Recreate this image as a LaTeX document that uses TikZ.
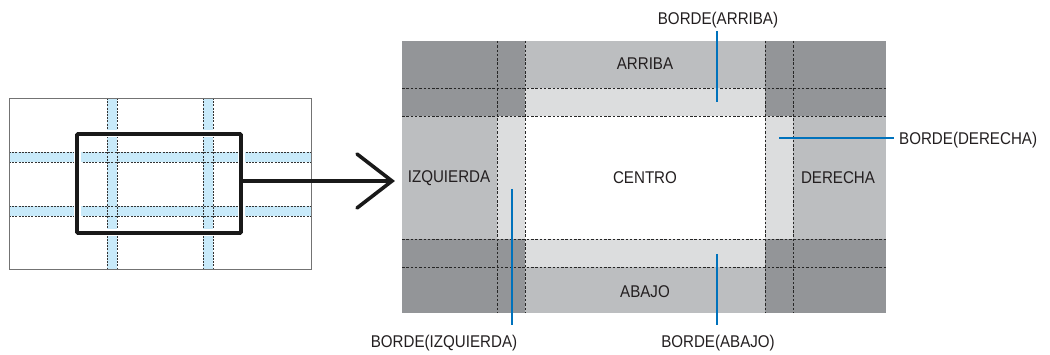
\documentclass[tikz,border=0pt]{standalone}
\usepackage{fontspec}
\setmainfont[FakeStretch=0.89]{Liberation Sans}
\begin{document}
\begin{tikzpicture}[x=1pt,y=-1pt,
  lbl/.style={font=\fontsize{17}{19}\selectfont, text=txtc, inner sep=0pt},
  leader/.style={draw=bluec, line width=2pt},
  gridline/.style={draw=black!85, line width=0.8pt, dash pattern=on 2.5pt off 1.8pt},
  bandline/.style={draw=black!80, line width=0.7pt, dash pattern=on 2pt off 1.2pt},
  band/.style={fill=bandc},
]
\definecolor{darkc}{HTML}{939598}
\definecolor{medc}{HTML}{BCBEC0}
\definecolor{lightc}{HTML}{DCDDDE}
\definecolor{bluec}{HTML}{0072BC}
\definecolor{bandc}{HTML}{C8EAFA}
\definecolor{txtc}{HTML}{231F20}
\useasboundingbox (0,0) rectangle (1050,355);

% ---------- left panel ----------
\fill[white] (9,98) rectangle (311,269);
\fill[band] (107,98) rectangle (117,269);
\fill[band] (203,98) rectangle (213,269);
\fill[band] (9,152) rectangle (311,162);
\fill[band] (9,206) rectangle (311,216);
\foreach \x in {107,117,203,213} \draw[bandline] (\x,98) -- (\x,269);
\foreach \y in {152,162,206,216} \draw[bandline] (9,\y) -- (311,\y);
\draw[draw=black!55, line width=0.8pt] (9,98) rectangle (311,269);
% selection frame
\draw[white, line width=7pt] (77,134) rectangle (241,233);
\draw[black!90, line width=3.6pt, rounded corners=1pt] (77,134) rectangle (241,233);

% arrow
\coordinate (frameE) at (241,181);
\coordinate (arrTip) at (392,181);
\coordinate (armA) at (357,154);
\coordinate (armB) at (357,208);
\draw[black!90, line width=3.6pt] (frameE) -- (arrTip);
\draw[black!90, line width=3.6pt, line cap=round, line join=miter] (armA) -- (arrTip) -- (armB);

% ---------- right panel ----------
\fill[darkc] (402,41) rectangle (525,116);
\fill[darkc] (765,41) rectangle (886,116);
\fill[darkc] (402,239) rectangle (525,313);
\fill[darkc] (765,239) rectangle (886,313);
\fill[medc] (525,41) rectangle (765,88);
\fill[medc] (525,267) rectangle (765,313);
\fill[medc] (402,116) rectangle (497,239);
\fill[medc] (793,116) rectangle (886,239);
\fill[lightc] (525,88) rectangle (765,116);
\fill[lightc] (525,239) rectangle (765,267);
\fill[lightc] (497,116) rectangle (525,239);
\fill[lightc] (765,116) rectangle (793,239);
\fill[white] (525,116) rectangle (765,239);
\foreach \y in {88,116,239,267} \draw[gridline] (402,\y) -- (886,\y);
\foreach \x in {497,525,765,793} \draw[gridline] (\x,41) -- (\x,313);

% region labels
\node[lbl] (arriba) at (645,64) {ARRIBA};
\node[lbl] (izq) at (449,178) {IZQUIERDA};
\node[lbl] (centro) at (645,178) {CENTRO};
\node[lbl] (der) at (838,178) {DERECHA};
\node[lbl] (abajo) at (645,292) {ABAJO};

% border labels
\node[lbl] (bArriba) at (718,20) {BORDE(ARRIBA)};
\node[lbl, anchor=west] (bDer) at (899,140) {BORDE(DERECHA)};
\node[lbl] (bIzq) at (444,343) {BORDE(IZQUIERDA)};
\node[lbl] (bAbajo) at (718,343) {BORDE(ABAJO)};

% leader lines
\coordinate (pArribaIn) at (717,102);
\coordinate (pArribaOut) at (717,31);
\coordinate (pDerIn) at (779,138);
\coordinate (pDerOut) at (894,138);
\coordinate (pIzqIn) at (512,189);
\coordinate (pIzqOut) at (512,325);
\coordinate (pAbajoIn) at (717,254);
\coordinate (pAbajoOut) at (717,325);
\draw[leader] (pArribaIn) -- (pArribaOut);
\draw[leader] (pDerIn) -- (pDerOut);
\draw[leader] (pIzqIn) -- (pIzqOut);
\draw[leader] (pAbajoIn) -- (pAbajoOut);
\end{tikzpicture}
\end{document}
